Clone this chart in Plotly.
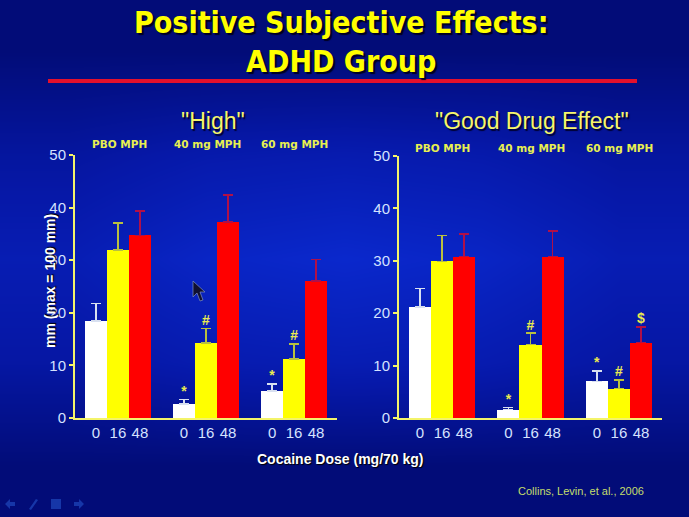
import plotly.graph_objects as go

W, H = 689, 517

dose_labels = ["0", "16", "48"]
group_labels = ["PBO MPH", "40 mg MPH", "60 mg MPH"]
slots_white = [0, 4, 8]
slots_yellow = [1, 5, 9]
slots_red = [2, 6, 10]

# "High" panel
high_white = [18.4, 2.7, 5.1]
high_white_err = [3.4, 0.8, 1.4]
high_yellow = [31.9, 14.3, 11.2]
high_yellow_err = [5.2, 2.7, 2.9]
high_red = [34.7, 37.3, 26.0]
high_red_err = [4.7, 5.1, 4.1]
high_marks_white = ["", "*", "*"]
high_marks_yellow = ["", "#", "#"]
high_marks_red = ["", "", ""]

# "Good Drug Effect" panel
good_white = [21.2, 1.6, 7.0]
good_white_err = [3.5, 0.4, 2.0]
good_yellow = [29.9, 14.0, 5.6]
good_yellow_err = [4.9, 2.2, 1.7]
good_red = [30.8, 30.8, 14.4]
good_red_err = [4.3, 4.9, 3.0]
good_marks_white = ["", "*", "*"]
good_marks_yellow = ["", "#", "#"]
good_marks_red = ["", "", "$"]

# background glow, dark at the top and bottom and brighter in the middle band
bg_z = [
    [0.00, 0.00, 0.00, 0.00, 0.00],
    [0.45, 0.60, 0.65, 0.60, 0.45],
    [0.65, 0.90, 1.00, 0.90, 0.65],
    [0.40, 0.55, 0.60, 0.55, 0.40],
    [0.00, 0.00, 0.00, 0.00, 0.00],
]

AXIS_YELLOW = "#f4f46a"
TICK_COLOR = "#d5e2ff"
TEXT_FONT = "Liberation Sans"
HEAD_FONT = "DejaVu Sans Condensed"
SHADOW = "1.5px 1.5px 1px #000030"


def px(x):
    return x / W


def py(y):
    return 1 - y / H


def path(points, close=True):
    d = "M " + " L ".join(f"{px(x):.4f},{py(y):.4f}" for x, y in points)
    return d + (" Z" if close else "")


def add_series(fig, axis, x, y, err, marks, color, err_color):
    fig.add_trace(go.Bar(
        x=x, y=y, width=1, marker=dict(color=color, line=dict(width=0)),
        error_y=dict(type="data", symmetric=False, array=err,
                     arrayminus=[0, 0, 0], color=err_color, thickness=1.5, width=5),
        xaxis="x" + axis, yaxis="y" + axis, showlegend=False,
    ))
    fig.add_trace(go.Scatter(
        x=x, y=[a + b for a, b in zip(y, err)], text=[f"<b>{m}</b>" if m else "" for m in marks],
        mode="text", textposition="top center", cliponaxis=False,
        textfont=dict(family="Liberation Sans", size=14, color="#eaea50"),
        xaxis="x" + axis, yaxis="y" + axis, showlegend=False,
    ))


fig = go.Figure()

fig.add_trace(go.Heatmap(
    z=bg_z, zsmooth="best", showscale=False, hoverinfo="skip", zmin=0, zmax=1,
    colorscale=[[0, "#020c78"], [0.5, "#0618a8"], [1, "#0a28cc"]],
    xaxis="x", yaxis="y",
))

add_series(fig, "2", slots_white, high_white, high_white_err, high_marks_white, "#ffffff", "#d8e0f0")
add_series(fig, "2", slots_yellow, high_yellow, high_yellow_err, high_marks_yellow, "#ffff00", "#b8c040")
add_series(fig, "2", slots_red, high_red, high_red_err, high_marks_red, "#ff0000", "#b01048")

add_series(fig, "3", slots_white, good_white, good_white_err, good_marks_white, "#ffffff", "#d8e0f0")
add_series(fig, "3", slots_yellow, good_yellow, good_yellow_err, good_marks_yellow, "#ffff00", "#b8c040")
add_series(fig, "3", slots_red, good_red, good_red_err, good_marks_red, "#ff0000", "#b01048")

x_axis = dict(
    range=[-0.95, 10.95], tickmode="array", automargin=False,
    tickvals=slots_white + slots_yellow + slots_red,
    ticktext=dose_labels[:1] * 3 + dose_labels[1:2] * 3 + dose_labels[2:] * 3,
    ticks="", showgrid=False, zeroline=False, showline=True,
    linecolor=AXIS_YELLOW, linewidth=2,
    tickfont=dict(family=TEXT_FONT, size=15, color=TICK_COLOR),
)
y_axis = dict(
    range=[0, 50], tickvals=[0, 10, 20, 30, 40, 50], automargin=False,
    ticks="outside", ticklen=4, tickcolor=AXIS_YELLOW, tickwidth=2,
    showgrid=False, zeroline=False, showline=True,
    linecolor=AXIS_YELLOW, linewidth=2,
    tickfont=dict(family=TEXT_FONT, size=15, color=TICK_COLOR),
)

annotations = []


def add_text(x, y, text, size, color, family=TEXT_FONT, bold=False, shadow=None, **kw):
    annotations.append(dict(
        x=px(x), y=py(y), xref="paper", yref="paper", text=f"<b>{text}</b>" if bold else text,
        showarrow=False, xanchor=kw.pop("xanchor", "center"), yanchor="middle",
        font=dict(family=family, size=size, color=color, shadow=shadow or "none"), **kw,
    ))


add_text(341, 42, "Positive Subjective Effects:<br>ADHD Group", 30, "#ffff00", HEAD_FONT, True, "2px 2px 1px #000020")
add_text(213, 121, '"High"', 23, "#f6f66a", shadow=SHADOW)
add_text(532, 121, '"Good Drug Effect"', 23, "#f6f66a", shadow=SHADOW)

for label, x in zip(group_labels, [119, 207, 294]):
    add_text(x, 144, label, 10.5, "#e8f050", "DejaVu Sans", True)
for label, x in zip(group_labels, [442, 531, 619]):
    add_text(x, 148, label, 10.5, "#e8f050", "DejaVu Sans", True)

add_text(50, 281, "mm (max = 100 mm)", 14, "#ffffff", TEXT_FONT, True, "1px 1px 1px #000000", textangle=-90)
add_text(340, 459, "Cocaine Dose (mg/70 kg)", 14, "#ffffff", TEXT_FONT, True, "1px 1px 1px #000000")
add_text(646, 491, "Collins, Levin, et al., 2006", 11, "#c4de6c", TEXT_FONT, xanchor="right")

shapes = [
    dict(type="rect", xref="paper", yref="paper", x0=px(48), x1=px(637), y0=py(83), y1=py(79),
         fillcolor="#e4102c", line=dict(width=0), layer="above"),
    # mouse pointer left on the slide
    dict(type="path", xref="paper", yref="paper", layer="above",
         path=path([(193, 281), (193, 297), (197, 293), (200, 301), (203, 300), (200, 292), (205, 292)]),
         fillcolor="#101030", line=dict(color="#8090c0", width=0.7)),
]
# faint slide show controls in the corner
icon_color = "#1636a8"
shapes += [
    dict(type="path", xref="paper", yref="paper", layer="above", fillcolor=icon_color, line=dict(width=0),
         path=path([(5, 504), (10, 499), (10, 502), (15, 502), (15, 506), (10, 506), (10, 509)])),
    dict(type="path", xref="paper", yref="paper", layer="above", fillcolor=icon_color, line=dict(width=0),
         path=path([(29, 509), (36, 499), (38, 500), (31, 510)])),
    dict(type="rect", xref="paper", yref="paper", layer="above", fillcolor=icon_color, line=dict(width=0),
         x0=px(51), x1=px(61), y0=py(509), y1=py(499)),
    dict(type="path", xref="paper", yref="paper", layer="above", fillcolor=icon_color, line=dict(width=0),
         path=path([(84, 504), (79, 499), (79, 502), (74, 502), (74, 506), (79, 506), (79, 509)])),
]

fig.update_layout(
    width=W, height=H, margin=dict(l=0, r=0, t=0, b=0, pad=0),
    paper_bgcolor="#020c78", plot_bgcolor="rgba(0,0,0,0)",
    barmode="overlay", bargap=0, showlegend=False,
    xaxis=dict(domain=[0, 1], visible=False, fixedrange=True, automargin=False),
    yaxis=dict(domain=[0, 1], visible=False, fixedrange=True, automargin=False),
    xaxis2=dict(domain=[px(75), px(337)], anchor="y2", **x_axis),
    yaxis2=dict(domain=[py(418), py(155)], anchor="x2", **y_axis),
    xaxis3=dict(domain=[px(399), px(662)], anchor="y3", **x_axis),
    yaxis3=dict(domain=[py(418), py(156)], anchor="x3", **y_axis),
    annotations=annotations, shapes=shapes,
)

# the page's default body margin would push the figure off the window
fig.write_html("out.html", config={"displayModeBar": False},
               post_script="document.body.style.margin='0';document.body.style.overflow='hidden';")
